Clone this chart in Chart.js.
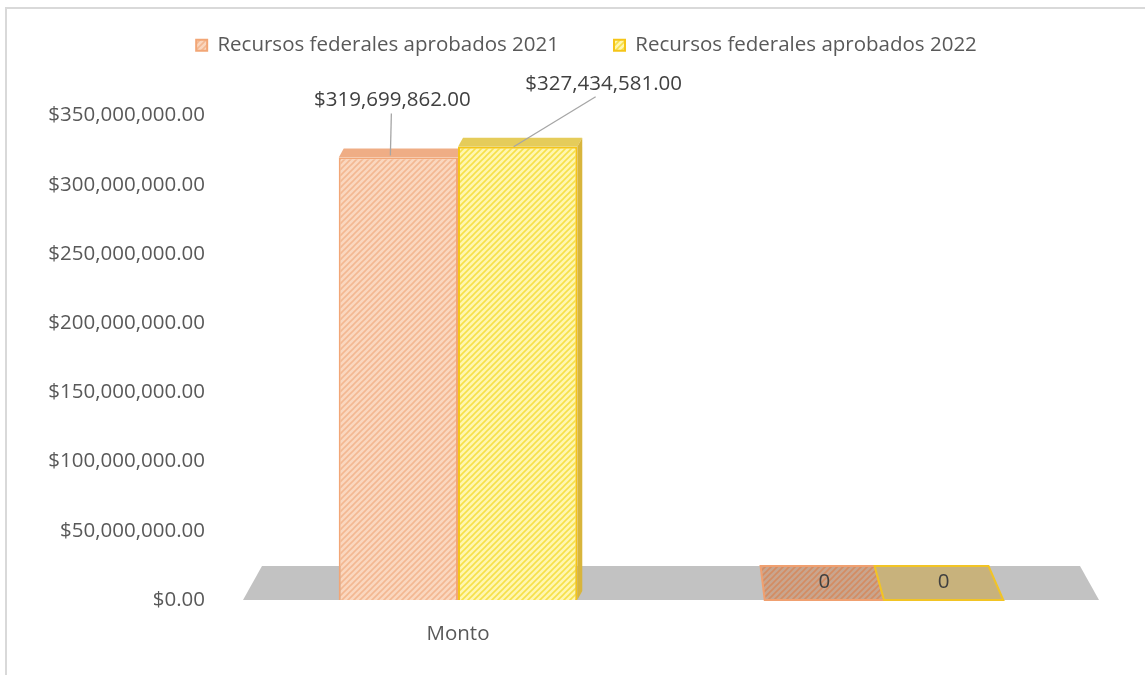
<!DOCTYPE html>
<html>
<head>
<meta charset="utf-8">
<script src="https://cdn.jsdelivr.net/npm/chart.js@4/dist/chart.umd.min.js"></script>
<style>
html, body { margin: 0; padding: 0; background: #fff; overflow: hidden; }
#frame { position: absolute; left: 5px; top: 7px; width: 2000px; height: 2000px;
         border-left: 2px solid #d9d9d9; border-top: 2px solid #d9d9d9; }
#wrap { position: absolute; left: 0; top: 0; width: 1145px; height: 675px; }
</style>
</head>
<body>
<div id="frame"></div>
<div id="wrap"><canvas id="barChart" width="1145" height="675"></canvas></div>
<script>
var categories = ['Monto', ''];
var seriesNames = ['Recursos federales aprobados 2021', 'Recursos federales aprobados 2022'];
var values2021 = [319699862, 0];
var values2022 = [327434581, 0];
var tickValues = [0, 50000000, 100000000, 150000000, 200000000, 250000000, 300000000, 350000000];

var FONT = '"Open Sans", sans-serif';
var FSIZE = 20.5;

function money(v) {
    return '$' + v.toLocaleString('en-US', { minimumFractionDigits: 2, maximumFractionDigits: 2 });
}

// hatch fill like the Excel pattern
function hatch(bg, line) {
    var c = document.createElement('canvas');
    c.width = 6; c.height = 6;
    var g = c.getContext('2d');
    g.fillStyle = bg;
    g.fillRect(0, 0, 6, 6);
    g.strokeStyle = line;
    g.lineWidth = 1.6;
    g.beginPath();
    g.moveTo(-1, 7); g.lineTo(7, -1);
    g.moveTo(-4, 4); g.lineTo(4, -4);
    g.moveTo(2, 10); g.lineTo(10, 2);
    g.stroke();
    return g.createPattern(c, 'repeat');
}

var fill2021 = hatch('#fad7bf', '#f3b892');
var fill2022 = hatch('#fff6b0', '#f6e04a');

var faces = [
    { top: '#efad85', side: '#e69462', zero: hatch('#c9a58e', '#d48c62'), zeroBorder: '#f0a070' },
    { top: '#e5cc5a', side: '#d8b53c', zero: '#c8b27c', zeroBorder: '#f2c424' }
];
// where each value label sits relative to its bar top (x, y) and where its leader line runs
var labelOffsets = [
    { tx: -6, ty: -57, lx1: -7, ly1: -44, lx2: -8, ly2: -2 },
    { tx: 86, ty: -63, lx1: 78, ly1: -50, lx2: -4, ly2: 0 }
];

var DX = 5, DY = 9, FLOOR = 34;

var floorPlugin = {
    id: 'floor',
    beforeDatasetsDraw: function (chart) {
        var ctx = chart.ctx, a = chart.chartArea;
        var y0 = chart.scales.y.getPixelForValue(0);
        ctx.save();
        ctx.fillStyle = '#c2c2c2';
        ctx.beginPath();
        ctx.moveTo(a.left - 2, y0);
        ctx.lineTo(a.left + 17, y0 - FLOOR);
        ctx.lineTo(a.right - 17, y0 - FLOOR);
        ctx.lineTo(a.right + 2, y0);
        ctx.closePath();
        ctx.fill();
        ctx.restore();
    }
};

// top/side faces of the tall bars and the flat zero bars lying on the floor
var depthPlugin = {
    id: 'depth',
    afterDatasetsDraw: function (chart) {
        var ctx = chart.ctx, a = chart.chartArea;
        var y0 = chart.scales.y.getPixelForValue(0);
        var cx = (a.left + a.right) / 2;
        var k = (a.right - a.left - 34) / (a.right - a.left + 4);
        var n = chart.data.datasets.length;
        chart.data.datasets.forEach(function (ds, d) {
            var st = faces[d];
            var meta = chart.getDatasetMeta(d);
            meta.data.forEach(function (bar, i) {
                var x1 = bar.x - bar.width / 2, x2 = bar.x + bar.width / 2;
                ctx.save();
                if (ds.data[i] > 0) {
                    var t = bar.y;
                    var last = d === n - 1;
                    if (!last) {
                        ctx.beginPath();
                        ctx.rect(x1 - 1, 0, x2 - x1 + 1, y0);
                        ctx.clip();
                    }
                    ctx.fillStyle = st.top;
                    ctx.beginPath();
                    ctx.moveTo(x1, t); ctx.lineTo(x1 + DX, t - DY);
                    ctx.lineTo(x2 + DX, t - DY); ctx.lineTo(x2, t);
                    ctx.closePath(); ctx.fill();
                    if (last) {
                        ctx.fillStyle = st.side;
                        ctx.beginPath();
                        ctx.moveTo(x2, t); ctx.lineTo(x2 + DX, t - DY);
                        ctx.lineTo(x2 + DX, y0 - DY); ctx.lineTo(x2, y0);
                        ctx.closePath(); ctx.fill();
                    }
                } else {
                    var tx1 = cx + (x1 - cx) * k, tx2 = cx + (x2 - cx) * k;
                    ctx.fillStyle = st.zero;
                    ctx.strokeStyle = st.zeroBorder;
                    ctx.lineWidth = 2;
                    ctx.beginPath();
                    ctx.moveTo(x1, y0); ctx.lineTo(tx1, y0 - FLOOR);
                    ctx.lineTo(tx2, y0 - FLOOR); ctx.lineTo(x2, y0);
                    ctx.closePath(); ctx.fill(); ctx.stroke();
                }
                ctx.restore();
            });
        });
    }
};

var labelPlugin = {
    id: 'valueLabels',
    afterDatasetsDraw: function (chart) {
        var ctx = chart.ctx;
        var y0 = chart.scales.y.getPixelForValue(0);
        ctx.save();
        ctx.font = FSIZE + 'px ' + FONT;
        ctx.textAlign = 'center';
        ctx.textBaseline = 'middle';
        chart.data.datasets.forEach(function (ds, d) {
            var meta = chart.getDatasetMeta(d);
            meta.data.forEach(function (bar, i) {
                var v = ds.data[i];
                if (v > 0) {
                    var o = labelOffsets[d];
                    ctx.strokeStyle = '#a6a6a6';
                    ctx.lineWidth = 1.3;
                    ctx.beginPath();
                    ctx.moveTo(bar.x + o.lx1, bar.y + o.ly1);
                    ctx.lineTo(bar.x + o.lx2, bar.y + o.ly2);
                    ctx.stroke();
                    ctx.fillStyle = '#404040';
                    ctx.fillText(money(v), bar.x + o.tx, bar.y + o.ty);
                } else {
                    ctx.fillStyle = '#404040';
                    ctx.fillText('0', bar.x, y0 - FLOOR / 2 - 1);
                }
            });
        });
        ctx.restore();
    }
};

// extra room under the legend, and nudge the legend a bit right/up
var legendGap = {
    id: 'legendGap',
    beforeInit: function (chart) {
        var fit = chart.legend.fit;
        chart.legend.fit = function () {
            fit.bind(chart.legend)();
            this.height += 28;
        };
    },
    afterLayout: function (chart) {
        var lg = chart.legend;
        lg.left += 28; lg.right += 28;
        lg.top -= 22; lg.bottom -= 22;
    }
};

var ctx = document.getElementById('barChart').getContext('2d');
var barChart = new Chart(ctx, {
    type: 'bar',
    data: {
        labels: categories,
        datasets: [{
            label: seriesNames[0],
            data: values2021,
            backgroundColor: fill2021,
            borderColor: '#f2a676',
            borderWidth: 2
        }, {
            label: seriesNames[1],
            data: values2022,
            backgroundColor: fill2022,
            borderColor: '#f5c518',
            borderWidth: 2
        }]
    },
    options: {
        responsive: false,
        animation: false,
        categoryPercentage: 0.56,
        barPercentage: 1.0,
        layout: { padding: { left: 20, right: 48, top: 2, bottom: 20 } },
        plugins: {
            tooltip: { enabled: false },
            legend: {
                position: 'top',
                labels: {
                    boxWidth: 11,
                    boxHeight: 11,
                    padding: 55,
                    color: '#595959',
                    font: { family: FONT, size: FSIZE }
                }
            }
        },
        scales: {
            x: {
                grid: { display: false, drawTicks: false },
                border: { display: false },
                ticks: { color: '#595959', padding: 22, font: { family: FONT, size: FSIZE } },
                afterFit: function (s) { s.height = 55; }
            },
            y: {
                min: 0,
                max: 350000000,
                grid: { display: false, drawTicks: false },
                border: { display: false },
                afterBuildTicks: function (s) {
                    s.ticks = tickValues.map(function (v) { return { value: v }; });
                },
                ticks: {
                    color: '#595959',
                    padding: 40,
                    font: { family: FONT, size: FSIZE },
                    callback: function (v) { return money(v); }
                },
                afterFit: function (s) { s.width = 225; }
            }
        }
    },
    plugins: [floorPlugin, depthPlugin, labelPlugin, legendGap]
});
</script>
</body>
</html>
